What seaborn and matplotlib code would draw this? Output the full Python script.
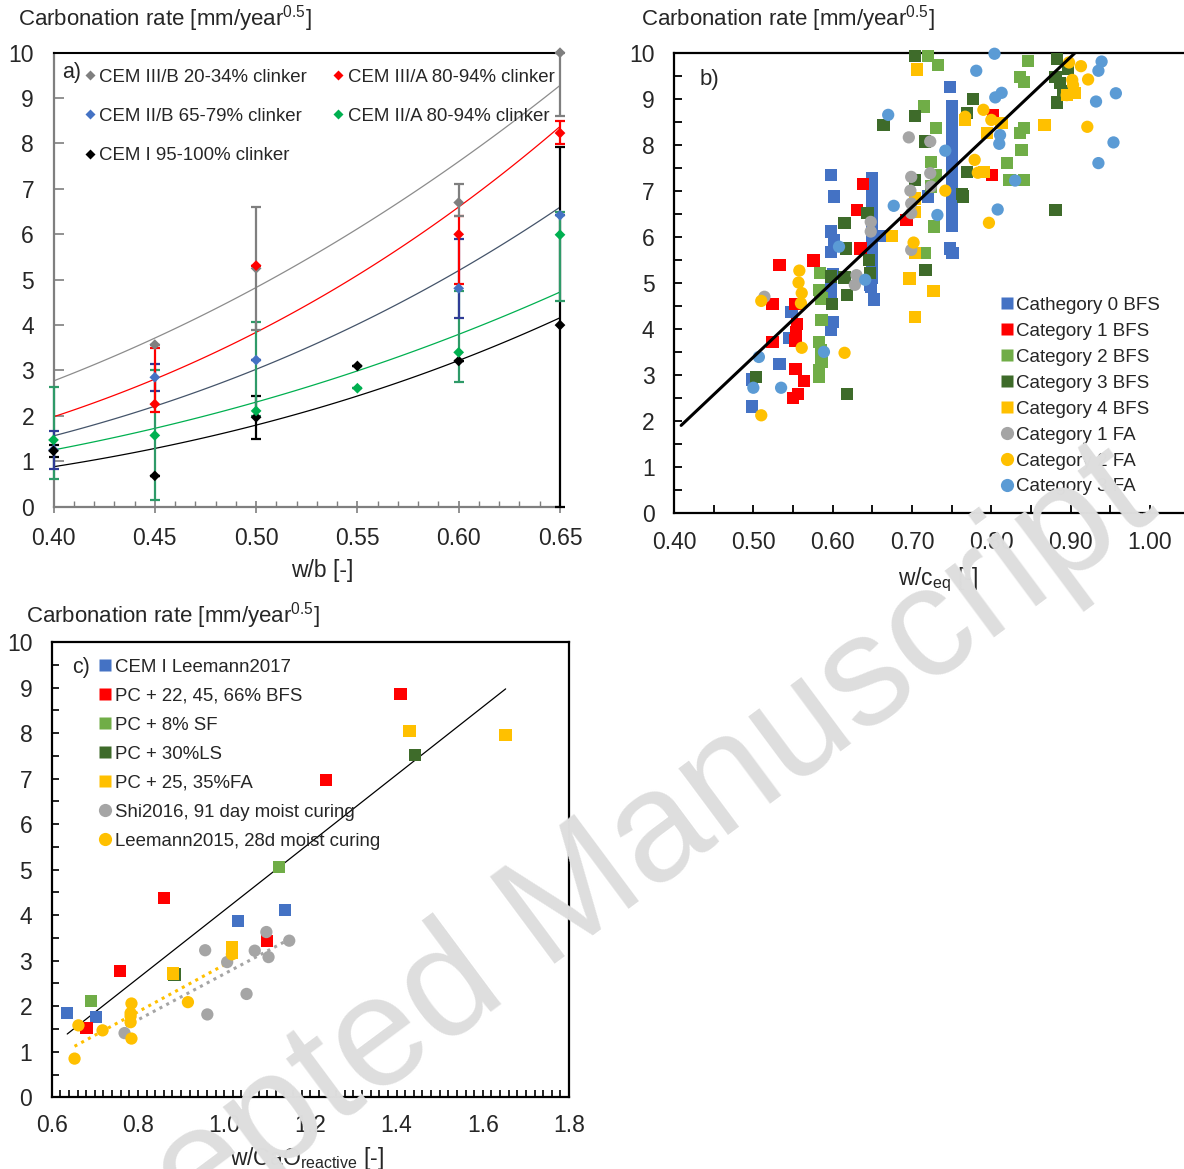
import numpy as np
import pandas as pd
import matplotlib
matplotlib.use("Agg")
import matplotlib.pyplot as plt
from matplotlib.lines import Line2D
from matplotlib.ticker import MultipleLocator, FormatStrFormatter
import seaborn as sns

sns.set_style("white")
plt.rcParams['font.family'] = ['Liberation Sans', 'DejaVu Sans']
plt.rcParams['mathtext.fontset'] = 'custom'
plt.rcParams['mathtext.rm'] = 'Liberation Sans'
plt.rcParams['mathtext.it'] = 'Liberation Sans'

# ---------------- Panel a data ----------------
a_series = ["CEM III/B 20-34% clinker", "CEM III/A 80-94% clinker",
            "CEM II/B 65-79% clinker", "CEM II/A 80-94% clinker",
            "CEM I 95-100% clinker"]
a_marker_colors = ["#7F7F7F", "#FF0000", "#4472C4", "#00B050", "#000000"]
a_err_colors = ["#7F7F7F", "#FF0000", "#2F3C96", "#2E9A68", "#000000"]
a_trend_colors = ["#8C8C8C", "#FF0000", "#44546A", "#00B050", "#000000"]

gray_x = [0.45, 0.50, 0.60, 0.65]
gray_y = [3.57, 5.25, 6.70, 10.0]
gray_lo = [3.57, 3.90, 6.40, 8.60]
gray_hi = [3.57, 6.60, 7.10, 10.0]

red_x = [0.45, 0.50, 0.60, 0.65]
red_y = [2.26, 5.31, 6.00, 8.23]
red_lo = [2.09, 5.31, 4.90, 7.99]
red_hi = [3.50, 5.31, 6.40, 8.49]

blue_x = [0.40, 0.45, 0.50, 0.60, 0.65]
blue_y = [1.25, 2.85, 3.23, 4.81, 6.42]
blue_lo = [0.84, 2.55, 3.23, 4.15, 6.42]
blue_hi = [1.67, 3.14, 3.23, 5.89, 6.42]

green_x = [0.40, 0.45, 0.50, 0.55, 0.60, 0.65]
green_y = [1.47, 1.57, 2.11, 2.61, 3.40, 5.99]
green_lo = [0.62, 0.15, 2.00, 2.61, 2.74, 4.54]
green_hi = [2.63, 3.00, 4.07, 2.61, 4.75, 6.50]

black_x = [0.40, 0.45, 0.50, 0.55, 0.60, 0.65]
black_y = [1.23, 0.68, 1.97, 3.10, 3.21, 4.00]
black_lo = [1.10, 0.68, 1.50, 3.10, 3.21, 0.00]
black_hi = [1.35, 0.68, 2.44, 3.10, 3.21, 7.92]

# power trend lines  y = y040 * (x/0.40)**exponent
trend_y040 = [2.77, 1.98, 1.56, 1.25, 0.88]
trend_exp = [2.49, 2.97, 2.97, 2.74, 3.20]

# ---------------- Panel b data ----------------
b_cats = ["Cathegory 0 BFS", "Category 1 BFS", "Category 2 BFS", "Category 3 BFS",
          "Category 4 BFS", "Category 1 FA", "Category 2 FA", "Category 3 FA"]
b_colors = ["#4472C4", "#FF0000", "#70AD47", "#3E6B2A", "#FFC000", "#A5A5A5", "#FFC000", "#5B9BD5"]
b_markers = ["s", "s", "s", "s", "s", "o", "o", "o"]

cat0_bfs = [(0.598,7.35),(0.602,6.88),(0.598,6.12),(0.602,5.94),(0.598,5.68),(0.600,5.20),(0.598,4.95),
            (0.598,4.77),(0.600,4.15),(0.598,3.97),(0.548,4.37),(0.545,3.81),(0.533,3.24),(0.498,2.90),
            (0.498,2.31),(0.650,7.28),(0.650,7.10),(0.650,6.92),(0.650,6.74),(0.650,6.56),(0.650,6.38),
            (0.650,6.20),(0.650,6.02),(0.650,5.84),(0.650,5.66),(0.650,5.48),(0.650,5.30),(0.650,5.12),
            (0.647,4.95),(0.652,4.64),(0.648,4.91),(0.661,6.03),(0.748,9.27),(0.750,8.85),(0.750,8.65),
            (0.750,8.45),(0.750,8.25),(0.750,8.05),(0.750,7.85),(0.750,7.65),(0.750,7.45),(0.750,7.25),
            (0.750,7.05),(0.750,6.85),(0.750,6.65),(0.750,6.45),(0.750,6.25),(0.748,5.75),(0.751,5.65),
            (0.720,6.88)]
cat1_bfs = [(0.638,7.15),(0.631,6.59),(0.635,5.75),(0.576,5.49),(0.533,5.39),(0.693,6.37),(0.801,7.35),
            (0.802,8.66),(0.524,4.54),(0.553,4.54),(0.555,4.11),(0.554,3.93),(0.553,3.75),(0.524,3.72),
            (0.553,3.13),(0.564,2.87),(0.556,2.59),(0.550,2.50)]
cat2_bfs = [(0.720,9.94),(0.733,9.75),(0.715,8.84),(0.730,8.37),(0.724,7.64),(0.730,7.35),(0.724,7.10),
            (0.728,6.23),(0.716,5.66),(0.846,9.84),(0.836,9.48),(0.841,9.38),(0.836,8.26),(0.841,8.37),
            (0.838,7.90),(0.820,7.62),(0.823,7.24),(0.841,7.24),(0.584,5.21),(0.583,4.85),(0.584,4.77),
            (0.586,4.66),(0.586,4.19),(0.583,3.72),(0.585,3.53),(0.586,3.28),(0.583,3.10),(0.583,2.95)]
cat3_bfs = [(0.704,9.94),(0.664,8.44),(0.704,8.64),(0.716,8.08),(0.777,9.00),(0.769,8.70),(0.769,7.42),
            (0.763,6.94),(0.764,6.88),(0.644,6.52),(0.615,6.31),(0.617,5.75),(0.646,5.50),(0.647,5.21),
            (0.615,5.12),(0.598,5.14),(0.717,5.28),(0.704,7.24),(0.883,9.87),(0.897,9.67),(0.881,9.49),
            (0.887,9.35),(0.890,9.17),(0.883,8.93),(0.881,6.59),(0.618,4.74),(0.503,2.95),(0.599,4.55),
            (0.618,2.59)]
cat4_bfs = [(0.706,9.65),(0.675,6.02),(0.704,6.55),(0.704,6.84),(0.704,5.65),(0.697,5.10),(0.727,4.83),
            (0.767,8.55),(0.795,8.26),(0.813,8.48),(0.791,7.42),(0.867,8.44),(0.895,9.09),(0.905,9.13),
            (0.704,4.26)]
cat1_fa = [(0.696,8.17),(0.723,8.08),(0.699,7.31),(0.723,7.39),(0.698,7.01),(0.699,6.73),(0.699,6.52),
           (0.724,7.10),(0.648,6.33),(0.648,6.12),(0.699,5.72),(0.630,5.17),(0.628,4.96),(0.514,4.70)]
cat2_fa = [(0.898,9.80),(0.913,9.72),(0.902,9.42),(0.903,9.31),(0.922,9.43),(0.895,9.09),(0.921,8.40),
           (0.790,8.77),(0.800,8.55),(0.767,8.62),(0.779,7.68),(0.783,7.40),(0.742,7.01),(0.797,6.31),
           (0.702,5.88),(0.558,5.27),(0.557,5.01),(0.561,4.78),(0.510,4.61),(0.560,4.56),(0.561,3.59),
           (0.615,3.48),(0.510,2.12)]
cat3_fa = [(0.804,9.99),(0.781,9.62),(0.939,9.82),(0.935,9.62),(0.932,8.95),(0.957,9.13),(0.813,9.14),
           (0.805,9.04),(0.811,8.22),(0.810,8.03),(0.954,8.06),(0.935,7.61),(0.830,7.23),(0.808,6.60),
           (0.670,8.66),(0.742,7.88),(0.677,6.68),(0.732,6.48),(0.608,5.79),(0.641,5.07),(0.507,3.39),
           (0.500,2.72),(0.535,2.72),(0.589,3.50)]
b_points = [cat0_bfs, cat1_bfs, cat2_bfs, cat3_bfs, cat4_bfs, cat1_fa, cat2_fa, cat3_fa]
b_fit_x = [0.409, 0.905]
b_fit_y = [1.90, 10.0]

# ---------------- Panel c data ----------------
c_cats = ["CEM I Leemann2017", "PC + 22, 45, 66% BFS", "PC + 8% SF", "PC + 30%LS",
          "PC + 25, 35%FA", "Shi2016, 91 day moist curing", "Leemann2015, 28d moist curing"]
c_colors = ["#4472C4", "#FF0000", "#70AD47", "#3E6B2A", "#FFC000", "#A5A5A5", "#FFC000"]
c_markers = ["s", "s", "s", "s", "s", "o", "o"]
c_cem1 = [(0.636,1.85),(0.702,1.76),(1.032,3.87),(1.142,4.12)]
c_bfs = [(1.409,8.86),(1.236,6.97),(0.861,4.38),(0.758,2.78),(0.681,1.52),(1.100,3.44)]
c_sf = [(1.128,5.06),(0.692,2.11)]
c_ls = [(1.443,7.52),(0.885,2.70)]
c_fa = [(1.430,8.04),(1.653,7.96),(0.881,2.72),(1.018,3.30),(1.018,3.17)]
c_shi = [(1.098,3.63),(1.151,3.44),(0.956,3.23),(1.071,3.22),(1.103,3.08),(1.007,2.97),(1.052,2.27),
         (0.961,1.82),(0.769,1.41)]
c_lee = [(0.653,0.85),(0.662,1.58),(0.718,1.47),(0.785,2.06),(0.783,1.85),(0.783,1.78),(0.783,1.65),
         (0.785,1.29),(0.916,2.09),(1.018,3.14)]
c_points = [c_cem1, c_bfs, c_sf, c_ls, c_fa, c_shi, c_lee]
c_fit_all_x = [0.636, 1.653]
c_fit_all_y = [1.39, 8.97]
c_fit_lee_x = [0.653, 1.016]
c_fit_lee_y = [1.12, 2.99]
c_fit_shi_x = [0.772, 1.151]
c_fit_shi_y = [1.56, 3.47]

# ---------------- Figure ----------------
W, H = 1184, 1169
fig = plt.figure(figsize=(W/100, H/100), dpi=100)
fig.patch.set_facecolor('white')

def px_axes(left, right, top, bottom):
    return fig.add_axes([left/W, 1-bottom/H, (right-left)/W, (bottom-top)/H])

fig.text(573/W, 1-950/H, "Accepted Manuscript", rotation=36.6, rotation_mode='anchor',
         fontsize=113, color="#DEDEDE", ha="center", va="baseline", zorder=0)

TICK_FS = 16.5
TITLE_FS = 16.0
XLAB_FS = 16.5
ylabel_txt = "Carbonation rate [mm/year$^{0.5}$]"

# ---- Panel a ----
axa = px_axes(53.5, 560, 52.7, 506.7)
axa.set_facecolor('none')
series = [(gray_x, gray_y, gray_lo, gray_hi), (red_x, red_y, red_lo, red_hi),
          (blue_x, blue_y, blue_lo, blue_hi), (green_x, green_y, green_lo, green_hi),
          (black_x, black_y, black_lo, black_hi)]
xs_t = np.linspace(0.40, 0.65, 100)
for i in range(5):
    tdf = pd.DataFrame({"x": xs_t, "y": trend_y040[i] * (xs_t / 0.40) ** trend_exp[i]})
    sns.lineplot(data=tdf, x="x", y="y", color=a_trend_colors[i], lw=0.9, ax=axa, zorder=2)
for i in [4, 3, 2, 1, 0]:
    x, y, lo, hi = series[i]
    y = np.array(y); lo = np.array(lo); hi = np.array(hi)
    axa.errorbar(x, y, yerr=[y - lo, hi - y], fmt='none', ecolor=a_err_colors[i],
                 elinewidth=1.6, capsize=3.5, capthick=1.6, zorder=3, clip_on=False)
for i in [0, 2, 4, 3, 1]:
    x, y, lo, hi = series[i]
    sdf = pd.DataFrame({"x": x, "y": y})
    sns.scatterplot(data=sdf, x="x", y="y", marker="D", s=30, color=a_marker_colors[i],
                    edgecolor="none", ax=axa, zorder=5, clip_on=False)
axa.set_xlim(0.40, 0.65)
axa.set_ylim(0, 10)
axa.set_xlabel("w/b [-]", fontsize=XLAB_FS, labelpad=4)
axa.xaxis.set_label_coords(0.53, -0.115)
axa.set_ylabel("")
axa.xaxis.set_major_locator(MultipleLocator(0.05))
axa.xaxis.set_minor_locator(MultipleLocator(0.01))
axa.xaxis.set_major_formatter(FormatStrFormatter('%.2f'))
axa.yaxis.set_major_locator(MultipleLocator(1))
axa.tick_params(axis='x', which='major', direction='inout', length=9, width=1.2, color='#7F7F7F',
                labelsize=TICK_FS, pad=10, bottom=True)
axa.tick_params(axis='x', which='minor', direction='in', length=4, width=1.0, color='#7F7F7F', bottom=True)
axa.tick_params(axis='y', which='major', direction='in', length=7, width=1.2, color='#7F7F7F',
                labelsize=TICK_FS, pad=14, left=True)
for s in ['left', 'bottom']:
    axa.spines[s].set_color('#7F7F7F'); axa.spines[s].set_linewidth(1.6)
axa.spines['top'].set_color('black'); axa.spines['top'].set_linewidth(1.5)
axa.spines['right'].set_visible(False)
axa.text(0.017, 0.98, "a)", transform=axa.transAxes, fontsize=15.5, va='top', ha='left')
a_handles = [Line2D([], [], ls='none', marker='D', ms=5.2, color=a_marker_colors[i], mec='none')
             for i in [0, 2, 4, 1, 3]]
a_labels = [a_series[i] for i in [0, 2, 4, 1, 3]]
axa.legend(a_handles, a_labels, ncol=2, loc='upper left', bbox_to_anchor=(0.062, 0.965),
           frameon=False, fontsize=13.4, handlelength=0.5, handletextpad=0.25,
           labelspacing=1.2, columnspacing=1.45, borderpad=0, borderaxespad=0)
fig.text(18/W, 1-19/H, ylabel_txt, fontsize=TITLE_FS, ha='left', va='center')

# ---- Panel b ----
axb = px_axes(674, 1184, 53.3, 512.7)
axb.set_facecolor('none')
rows = []
for cat, pts in zip(b_cats, b_points):
    for (x, y) in pts:
        rows.append((cat, x, y))
bdf = pd.DataFrame(rows, columns=["cat", "x", "y"])
sns.scatterplot(data=bdf, x="x", y="y", hue="cat", style="cat",
                palette=dict(zip(b_cats, b_colors)), markers=dict(zip(b_cats, b_markers)),
                s=78, edgecolor="none", legend=False, ax=axb, zorder=3, clip_on=False)
fdf = pd.DataFrame({"x": b_fit_x, "y": b_fit_y})
sns.lineplot(data=fdf, x="x", y="y", color="black", lw=2.2, ax=axb, zorder=4)
axb.set_xlim(0.40, 0.40 + (1184 - 674) / 793.3)
axb.set_ylim(0, 10)
axb.set_xlabel("w/c$_{\\mathregular{eq}}$ [-]", fontsize=XLAB_FS, labelpad=2)
axb.xaxis.set_label_coords(0.518, -0.115)
axb.set_ylabel("")
axb.xaxis.set_major_locator(MultipleLocator(0.10))
axb.xaxis.set_minor_locator(MultipleLocator(0.05))
axb.xaxis.set_major_formatter(FormatStrFormatter('%.2f'))
axb.yaxis.set_major_locator(MultipleLocator(1))
axb.yaxis.set_minor_locator(MultipleLocator(0.5))
axb.tick_params(axis='both', which='major', direction='in', length=6, width=1.3, color='black',
                labelsize=TICK_FS, bottom=True, left=True)
axb.tick_params(axis='both', which='minor', direction='in', length=6, width=1.3, color='black',
                bottom=True, left=True)
axb.tick_params(axis='x', which='major', pad=13)
axb.tick_params(axis='y', which='major', pad=14)
for s in ['left', 'bottom', 'top']:
    axb.spines[s].set_color('black'); axb.spines[s].set_linewidth(1.6)
axb.spines['right'].set_visible(False)
axb.text(0.05, 0.965, "b)", transform=axb.transAxes, fontsize=16, va='top', ha='left')
b_handles = [Line2D([], [], ls='none', marker=m, ms=8.5 if m == 's' else 9.5, color=c, mec='none')
             for m, c in zip(b_markers, b_colors)]
axb.legend(b_handles, b_cats, loc='upper left', bbox_to_anchor=(0.641, 0.470), frameon=False,
           fontsize=13.5, handlelength=0.6, handletextpad=0.2, labelspacing=0.47,
           borderpad=0, borderaxespad=0)
fig.text(641/W, 1-19/H, ylabel_txt, fontsize=TITLE_FS, ha='left', va='center')

# ---- Panel c ----
axc = px_axes(51.7, 569, 642, 1097.3)
axc.set_facecolor('none')
rows = []
for cat, pts in zip(c_cats, c_points):
    for (x, y) in pts:
        rows.append((cat, x, y))
cdf = pd.DataFrame(rows, columns=["cat", "x", "y"])
for fx, fy, col, ls, lw in [(c_fit_all_x, c_fit_all_y, 'black', '-', 0.9),
                             (c_fit_lee_x, c_fit_lee_y, '#FFC000', (0, (1, 1.5)), 2.2),
                             (c_fit_shi_x, c_fit_shi_y, '#A5A5A5', (0, (1, 1.5)), 2.2)]:
    ldf = pd.DataFrame({"x": fx, "y": fy})
    sns.lineplot(data=ldf, x="x", y="y", color=col, lw=lw, linestyle=ls, ax=axc, zorder=2)
sns.scatterplot(data=cdf, x="x", y="y", hue="cat", style="cat",
                palette=dict(zip(c_cats, c_colors)), markers=dict(zip(c_cats, c_markers)),
                s=78, edgecolor="none", legend=False, ax=axc, zorder=3)
axc.set_xlim(0.6, 1.8)
axc.set_ylim(0, 10)
axc.set_xlabel("w/CaO$_{\\mathregular{reactive}}$ [-]", fontsize=XLAB_FS, labelpad=2)
axc.xaxis.set_label_coords(0.494, -0.105)
axc.set_ylabel("")
axc.xaxis.set_major_locator(MultipleLocator(0.2))
axc.xaxis.set_minor_locator(MultipleLocator(0.02))
axc.xaxis.set_major_formatter(FormatStrFormatter('%.1f'))
axc.yaxis.set_major_locator(MultipleLocator(1))
axc.yaxis.set_minor_locator(MultipleLocator(0.5))
axc.tick_params(axis='both', which='major', direction='in', length=5, width=1.2, color='black',
                labelsize=TICK_FS, bottom=True, left=True)
axc.tick_params(axis='both', which='minor', direction='in', length=5, width=1.2, color='black',
                bottom=True, left=True)
axc.tick_params(axis='x', which='major', pad=12)
axc.tick_params(axis='y', which='major', pad=14)
for s in axc.spines.values():
    s.set_color('black'); s.set_linewidth(1.6)
axc.text(0.04, 0.967, "c)", transform=axc.transAxes, fontsize=15.5, va='top', ha='left')
c_handles = [Line2D([], [], ls='none', marker=m, ms=8.5 if m == 's' else 9.5, color=c, mec='none')
             for m, c in zip(c_markers, c_colors)]
axc.legend(c_handles, c_cats, loc='upper left', bbox_to_anchor=(0.093, 0.963), frameon=False,
           fontsize=13.4, handlelength=0.6, handletextpad=0.2, labelspacing=0.64,
           borderpad=0, borderaxespad=0)
fig.text(26/W, 1-616/H, ylabel_txt, fontsize=TITLE_FS, ha='left', va='center')

fig.savefig("out.png", dpi=100, facecolor='white')
